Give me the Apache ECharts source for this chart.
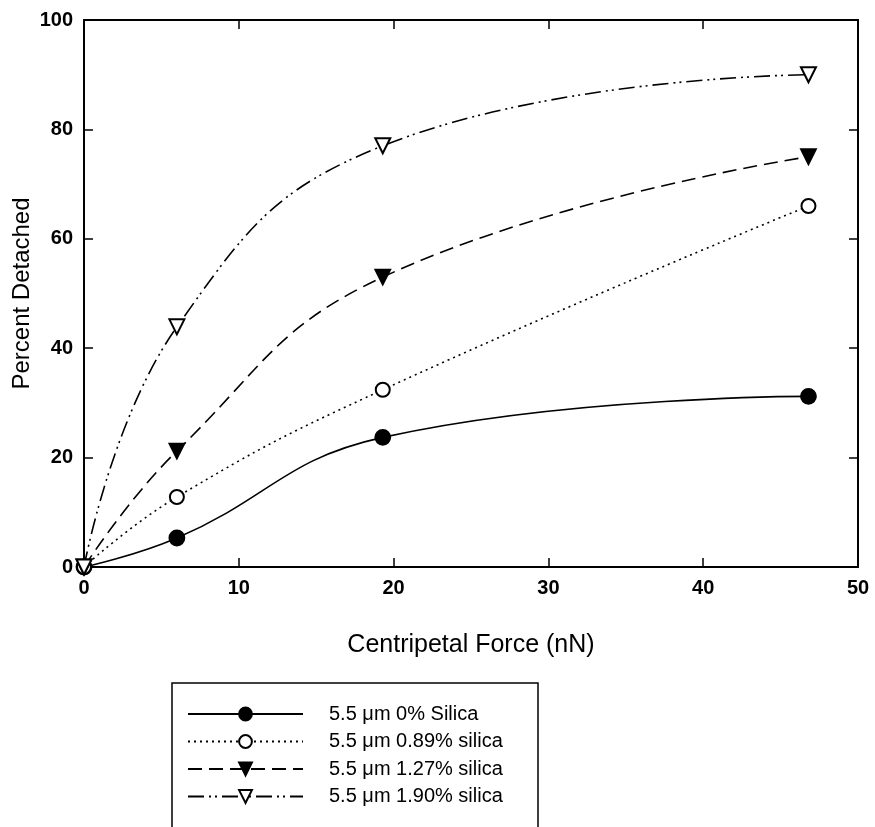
<!DOCTYPE html>
<html>
<head>
<meta charset="utf-8">
<script src="https://cdn.jsdelivr.net/npm/echarts@6/dist/echarts.min.js"></script>
<style>
  html, body { margin: 0; padding: 0; background: #fff; }
  #box { width: 875px; height: 827px; }
</style>
</head>
<body>
<div id="box"></div>
<script>
// force values (nN) shared by all series
var force = [0, 6, 19.3, 46.8];
var silica0 = [0, 5.3, 23.7, 31.2];
var silica089 = [0, 12.8, 32.4, 66.0];
var silica127 = [0, 21.2, 53.0, 75.0];
var silica190 = [0, 43.9, 77.0, 90.0];
var names = ["5.5 μm 0% Silica", "5.5 μm 0.89% silica", "5.5 μm 1.27% silica", "5.5 μm 1.90% silica"];
var xTicks = [0, 10, 20, 30, 40, 50];
var yTicks = [0, 20, 40, 60, 80, 100];

function pairs(ys) {
  return force.map(function (x, i) { return [x, ys[i]]; });
}

var font = "'Liberation Sans', Arial, sans-serif";

var myChart = echarts.init(document.getElementById("box"));

function axisCommon(show) {
  return {
    type: "value",
    axisLine: { show: true, onZero: false, lineStyle: { color: "#000", width: 2 } },
    axisTick: { show: true, inside: true, length: 9, lineStyle: { color: "#000", width: 1.5 } },
    axisLabel: { show: show, color: "#000", fontSize: 20, fontWeight: "bold", fontFamily: font, margin: 11 },
    splitLine: { show: false }
  };
}

var xBottom = Object.assign(axisCommon(true), {
  position: "bottom", min: xTicks[0], max: xTicks[xTicks.length - 1], interval: 10,
  name: "Centripetal Force (nN)", nameLocation: "middle", nameGap: 66, nameMoveOverlap: false,
  nameTextStyle: { color: "#000", fontSize: 25, fontFamily: font }
});
var xTop = Object.assign(axisCommon(false), {
  position: "top", min: 0, max: 50, interval: 10
});
var yLeft = Object.assign(axisCommon(true), {
  position: "left", min: yTicks[0], max: yTicks[yTicks.length - 1], interval: 20,
  name: "Percent Detached", nameLocation: "middle", nameGap: 50, nameMoveOverlap: false,
  nameTextStyle: { color: "#000", fontSize: 24, fontFamily: font }
});
var yRight = Object.assign(axisCommon(false), {
  position: "right", min: 0, max: 100, interval: 20
});

function series(name, ys, symbol, size, dash) {
  return {
    name: name,
    type: "line",
    xAxisIndex: 0,
    yAxisIndex: 0,
    data: pairs(ys),
    smooth: 0.45,
    symbol: symbol,
    symbolSize: size,
    symbolRotate: symbol.indexOf("riangle") >= 0 ? 180 : 0,
    showAllSymbol: true,
    lineStyle: { color: "#000", width: 1.6, type: dash },
    itemStyle: { color: "#000", borderColor: "#000", borderWidth: 1.8 },
    emphasis: { disabled: true }
  };
}

var option = {
  animation: false,
  backgroundColor: "#fff",
  grid: { left: 84, right: 17, top: 20, bottom: 260, outerBoundsMode: "none" },
  xAxis: [xBottom, xTop],
  yAxis: [yLeft, yRight],
  graphic: [{
    type: "rect",
    shape: { x: 172, y: 683, width: 366, height: 160 },
    style: { fill: null, stroke: "#000", lineWidth: 1.5 },
    silent: true
  }],
  legend: {
    orient: "vertical",
    left: 172,
    top: 683,
    itemWidth: 115,
    itemHeight: 16,
    itemGap: 7.5,
    padding: [21, 10, 5, 15],
    textStyle: { color: "#000", fontSize: 20, fontFamily: font, padding: [0, 0, 0, 21] },
    data: names
  },
  series: [
    series(names[0], silica0, "circle", 15, "solid"),
    series(names[1], silica089, "emptyCircle", 14, [2, 4]),
    series(names[2], silica127, "triangle", 15, [14, 7]),
    series(names[3], silica190, "emptyTriangle", 15, [16, 5, 2, 4, 2, 5])
  ]
};
// top/right mirror axes need a dummy series to be drawn
option.series.push({
  type: "line", xAxisIndex: 1, yAxisIndex: 1, data: [], silent: true
});
myChart.setOption(option);
</script>
</body>
</html>
